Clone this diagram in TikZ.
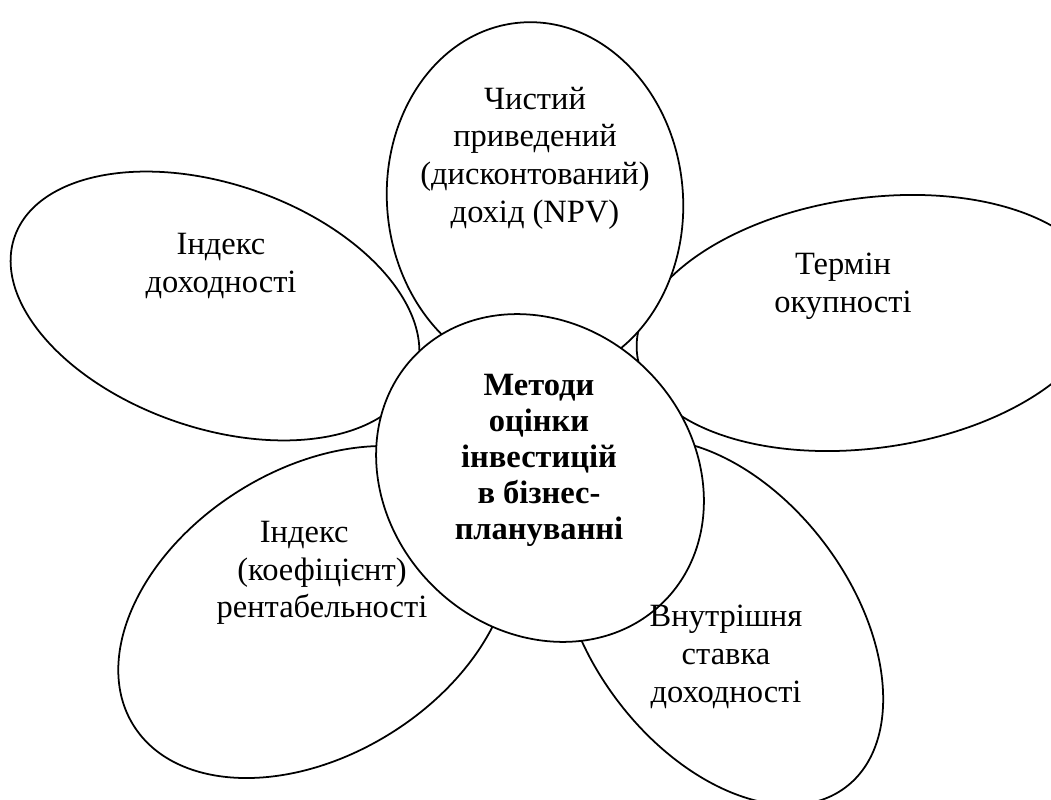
\documentclass[tikz,border=0pt]{standalone}
\usepackage{fontspec}
\setmainfont{Liberation Serif}
\begin{document}
\begin{tikzpicture}[
  x=0.02cm, y=-0.02cm,
  petal/.style={draw, line width=1pt, fill=white},
  txt/.style={align=center, inner sep=0pt, font=\fontsize{18.5}{21.5}\selectfont},
  maintxt/.style={align=center, inner sep=0pt, font=\fontsize{18.5}{20.5}\selectfont\bfseries}
]
\clip (0,0) rectangle (1051,800);

% petals (back to front)
\draw[petal, rotate around={8:(870,323)}] (870,323) ellipse (235 and 125);
\draw[petal, rotate around={5:(535,200)}] (535,200) ellipse (148 and 178);
\draw[petal, rotate around={-19:(215,306)}] (215,306) ellipse (212 and 122);
\draw[petal, rotate around={32:(315,612)}] (315,612) ellipse (214 and 143);
\draw[petal, rotate around={-53:(721,622)}] (721,622) ellipse (207 and 130);
% centre
\draw[petal, rotate around={-45:(540,478)}] (540,478) ellipse (175 and 152);

\node[txt] (npv) at (535,158) {Чистий\\приведений\\(дисконтований)\\дохід (NPV)};
\node[txt] (pi) at (221,266) {Індекс\\доходності};
\node[txt] (pb) at (843,286) {Термін\\окупності};
\node[txt] (rent) at (322,573) {Індекс\hspace*{1.1em}\\(коефіцієнт)\\рентабельності};
\node[txt] (irr) at (726,657) {Внутрішня\\ставка\\доходності};
\node[maintxt] (core) at (539,460) {Методи\\оцінки\\інвестицій\\в бізнес-\\плануванні};
\end{tikzpicture}
\end{document}
